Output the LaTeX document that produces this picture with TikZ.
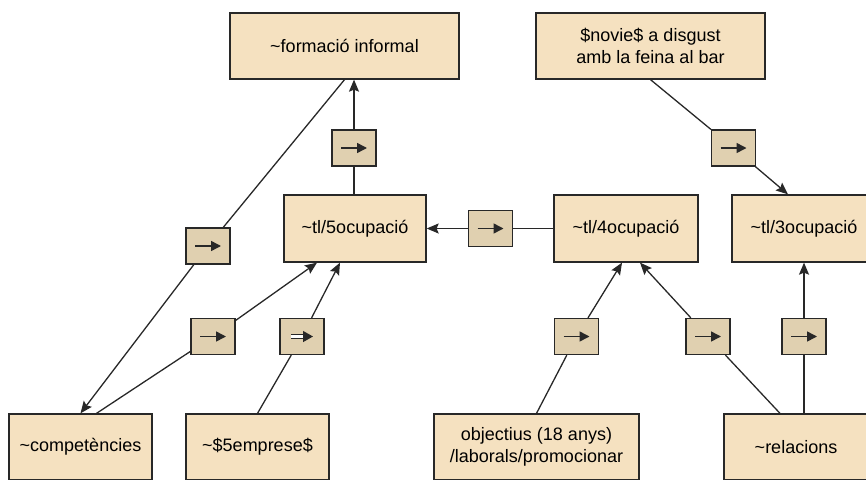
\documentclass[tikz,border=0pt]{standalone}
\usepackage{fontspec}
\setmainfont{Liberation Sans}
\usetikzlibrary{arrows.meta}
\definecolor{bigfill}{RGB}{245,225,192}
\definecolor{smallfill}{RGB}{224,208,176}
\definecolor{edgecol}{RGB}{40,40,40}
\newcommand\sarr{\tikz[baseline=-0.5ex,x=1pt,y=1pt]\draw[line width=1.5pt,edgecol,-{Triangle[length=10pt,width=10pt]}] (0,0)--(26,0);}
\newcommand\darr{\tikz[baseline=-0.5ex,x=1pt,y=1pt]\draw[line width=1.3pt,double distance=2.6pt,edgecol,-{Triangle[length=10pt,width=11pt]}] (0,0)--(22,0);}
\tikzset{
  bigbox/.style={draw=edgecol,fill=bigfill,line width=1.3pt,inner sep=0pt,align=center,
    font=\fontsize{18}{22}\selectfont},
  smallbox/.style={draw=edgecol,fill=smallfill,line width=1.3pt,inner sep=0pt,
    minimum width=44pt,minimum height=36pt},
  conn/.style={draw=edgecol,line width=1.3pt},
  arr/.style={conn,-{Stealth[length=12pt,width=10pt,inset=2pt]}}
}
\begin{document}
\begin{tikzpicture}[x=1pt,y=-1pt]
\useasboundingbox (0,0) rectangle (866,479);
% big boxes
\node[bigbox,minimum width=229pt,minimum height=66pt] (fi) at (344.5,46) {\textasciitilde formació informal};
\node[bigbox,minimum width=229pt,minimum height=66pt] (nov) at (650.5,46) {\$novie\$ a disgust\\amb la feina al bar};
\node[bigbox,minimum width=142pt,minimum height=67pt] (tl5) at (355,228.5) {\textasciitilde tl/5ocupació};
\node[bigbox,minimum width=144pt,minimum height=67pt] (tl4) at (626,228.5) {\textasciitilde tl/4ocupació};
\node[bigbox,minimum width=144pt,minimum height=67pt] (tl3) at (804,228.5) {\textasciitilde tl/3ocupació};
\node[bigbox,minimum width=143pt,minimum height=66pt] (comp) at (80.5,447) {\textasciitilde competències};
\node[bigbox,minimum width=143pt,minimum height=66pt] (emp) at (257.5,447) {\textasciitilde\$5emprese\$};
\node[bigbox,minimum width=205pt,minimum height=66pt] (obj) at (536.5,447) {objectius (18 anys)\\/laborals/promocionar};
\node[bigbox,minimum width=144pt,minimum height=66pt] (rel) at (796,447) {\textasciitilde relacions};
% small boxes
\node[smallbox] (s1) at (354,148) {\sarr};
\node[smallbox] (s2) at (490.5,228.5) {\sarr};
\node[smallbox] (s3) at (733.5,148) {\sarr};
\node[smallbox] (s4) at (208,246) {\sarr};
\node[smallbox] (s5) at (213,336.5) {\sarr};
\node[smallbox] (s6) at (302,336.5) {\darr};
\node[smallbox] (s7) at (576.5,336.5) {\sarr};
\node[smallbox] (s8) at (708,336.5) {\sarr};
\node[smallbox] (s9) at (804,336.5) {\sarr};
% connectors
\draw[conn] (tl5.north -| s1) -- (s1);
\draw[arr] (s1.north) -- (s1.north |- fi.south);
\draw[conn] (fi.south) -- (s4);
\draw[arr] (s4) -- (comp.north);
\draw[conn] ([xshift=16pt]comp.north) -- (s5);
\draw[arr] (s5) -- ([xshift=-38pt]tl5.south);
\draw[conn] (emp.north) -- (s6);
\draw[arr] (s6) -- ([xshift=-15pt]tl5.south);
\draw[conn] (tl4.west) -- (s2);
\draw[arr] (s2) -- (tl5.east);
\draw[conn] (nov.south) -- (s3);
\draw[arr] (s3) -- ([xshift=-16pt]tl3.north);
\draw[conn] (obj.north) -- (s7);
\draw[arr] (s7) -- ([xshift=-4pt]tl4.south);
\draw[conn] ([xshift=-16pt]rel.north) -- (s8);
\draw[arr] (s8) -- ([xshift=14pt]tl4.south);
\draw[conn] (rel.north -| s9) -- (s9);
\draw[arr] (s9.north) -- (s9.north |- tl3.south);
\end{tikzpicture}
\end{document}
